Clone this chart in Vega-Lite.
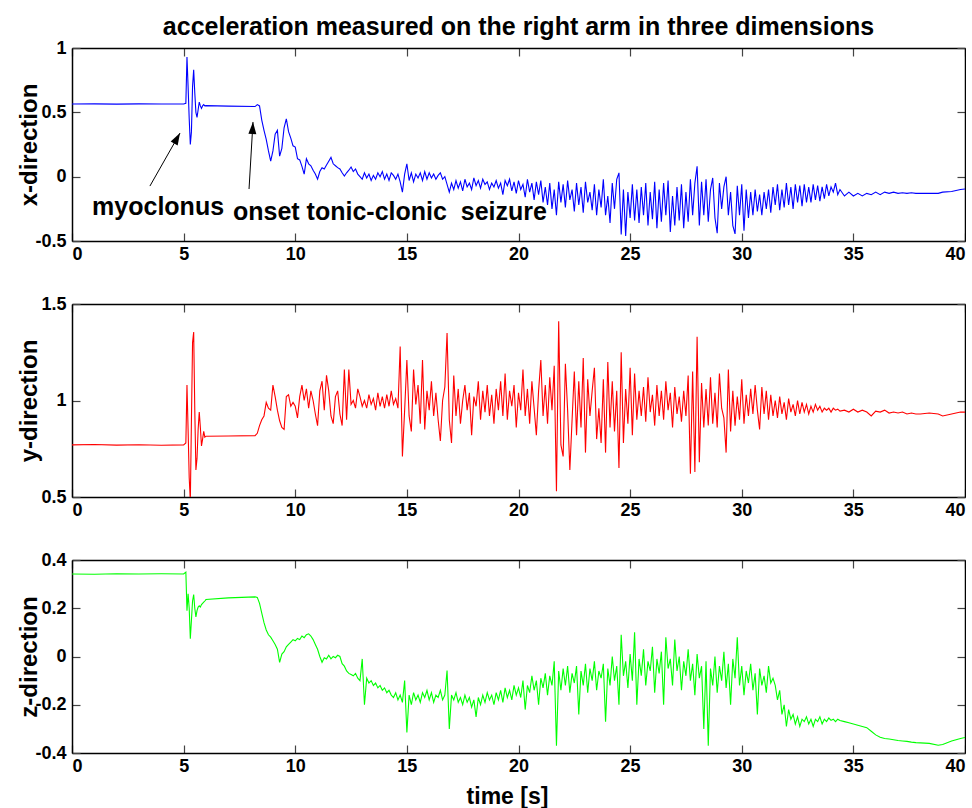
{
"$schema": "https://vega.github.io/schema/vega-lite/v6.json",
"background": "white",
"padding": {"left": 17, "top": 15, "right": 0, "bottom": 0},
"autosize": {"type": "pad"},
"bounds": "flush",
"spacing": 63,
"config": {
  "font": "Liberation Sans",
  "view": {"stroke": null},
  "axis": {"grid": false, "labelFont": "Liberation Sans", "labelFontSize": 18, "labelFontWeight": "bold", "labelColor": "black", "titleFont": "Liberation Sans", "titleFontWeight": "bold", "titleColor": "black", "domainColor": "black", "domainWidth": 1.5, "tickColor": "#444", "tickWidth": 1.2, "tickSize": -8, "labelPadding": 12, "labelExpr": "datum.value < 0 ? '-' + format(-datum.value, '') : format(datum.value, '')"}
},
"datasets": {
  "notes": [
    {"label": "myoclonus", "t": 0.9, "v": -0.236},
    {"label": "onset tonic-clonic\u00a0 seizure", "t": 7.21, "v": -0.275}
  ],
  "arrows": [
    {"id": 1, "t": 3.49, "v": -0.073, "t2": 4.838, "v2": 0.339},
    {"id": 2, "t": 7.93, "v": -0.096, "t2": 8.107, "v2": 0.425}
  ],
  "acc": [
{"t":0,"x":0.565,"y":0.77,"z":0.342},
{"t":1,"x":0.566,"y":0.772,"z":0.341},
{"t":2,"x":0.564,"y":0.769,"z":0.343},
{"t":3,"x":0.566,"y":0.771,"z":0.342},
{"t":4,"x":0.565,"y":0.768,"z":0.343},
{"t":5,"x":0.565,"y":0.77,"z":0.342},
{"t":5.1,"x":0.57,"y":0.78,"z":0.35},
{"t":5.15,"x":0.93,"y":1.08,"z":0.19},
{"t":5.2,"x":0.7,"y":0.85,"z":0.26},
{"t":5.25,"x":0.45,"y":0.6,"z":0.2},
{"t":5.3,"x":0.25,"y":0.48,"z":0.074},
{"t":5.35,"x":0.35,"y":0.9,"z":0.15},
{"t":5.4,"x":0.7,"y":1.3,"z":0.23},
{"t":5.45,"x":0.83,"y":1.355,"z":0.257},
{"t":5.5,"x":0.65,"y":0.95,"z":0.2},
{"t":5.55,"x":0.5,"y":0.64,"z":0.164},
{"t":5.6,"x":0.46,"y":0.7,"z":0.19},
{"t":5.65,"x":0.52,"y":0.85,"z":0.205},
{"t":5.7,"x":0.58,"y":0.94,"z":0.21},
{"t":5.75,"x":0.55,"y":0.86,"z":0.205},
{"t":5.8,"x":0.53,"y":0.765,"z":0.215},
{"t":5.85,"x":0.55,"y":0.8,"z":0.22},
{"t":5.9,"x":0.56,"y":0.84,"z":0.225},
{"t":5.95,"x":0.55,"y":0.81,"z":0.23},
{"t":6,"x":0.552,"y":0.815,"z":0.236},
{"t":7,"x":0.548,"y":0.816,"z":0.243},
{"t":8.2,"x":0.545,"y":0.818,"z":0.247},
{"t":8.3,"x":0.56,"y":0.83,"z":0.245},
{"t":8.4,"x":0.55,"y":0.87,"z":0.22},
{"t":8.5,"x":0.44,"y":0.9,"z":0.18},
{"t":8.6,"x":0.36,"y":0.92,"z":0.14},
{"t":8.7,"x":0.29,"y":0.99,"z":0.11},
{"t":8.8,"x":0.2,"y":0.96,"z":0.09},
{"t":8.9,"x":0.12,"y":0.95,"z":0.08},
{"t":9.0,"x":0.2,"y":1.08,"z":0.065},
{"t":9.1,"x":0.33,"y":1.02,"z":0.05},
{"t":9.2,"x":0.36,"y":0.95,"z":0.03},
{"t":9.3,"x":0.16,"y":0.895,"z":-0.024},
{"t":9.4,"x":0.22,"y":0.86,"z":0.01},
{"t":9.5,"x":0.38,"y":0.85,"z":0.02},
{"t":9.6,"x":0.45,"y":1.02,"z":0.04},
{"t":9.7,"x":0.35,"y":1.03,"z":0.05},
{"t":9.8,"x":0.3,"y":0.97,"z":0.06},
{"t":9.9,"x":0.24,"y":0.99,"z":0.07},
{"t":10.0,"x":0.23,"y":0.97,"z":0.065},
{"t":10.1,"x":0.14,"y":0.91,"z":0.075},
{"t":10.2,"x":0.13,"y":1.02,"z":0.07},
{"t":10.3,"x":0.08,"y":1.08,"z":0.085},
{"t":10.4,"x":0.02,"y":1.0,"z":0.078},
{"t":10.5,"x":0.14,"y":1.06,"z":0.09},
{"t":10.6,"x":0.1,"y":0.96,"z":0.094},
{"t":10.7,"x":0.085,"y":1.05,"z":0.085},
{"t":10.8,"x":0.05,"y":1.0,"z":0.07},
{"t":10.9,"x":0.02,"y":0.93,"z":0.05},
{"t":11.0,"x":-0.02,"y":0.87,"z":0.03},
{"t":11.1,"x":0.04,"y":1.05,"z":0.0},
{"t":11.2,"x":0.07,"y":1.1,"z":-0.024},
{"t":11.3,"x":0.06,"y":0.95,"z":-0.005},
{"t":11.4,"x":0.09,"y":1.13,"z":-0.01},
{"t":11.5,"x":0.12,"y":1.05,"z":0.005},
{"t":11.6,"x":0.15,"y":0.92,"z":-0.01},
{"t":11.7,"x":0.1,"y":0.88,"z":0.0},
{"t":11.8,"x":0.085,"y":1.02,"z":-0.005},
{"t":11.9,"x":0.07,"y":1.05,"z":0.005},
{"t":12.0,"x":0.06,"y":0.93,"z":0.0},
{"t":12.1,"x":0.03,"y":0.87,"z":-0.03},
{"t":12.2,"x":0.005,"y":1.16,"z":-0.04},
{"t":12.3,"x":0.03,"y":0.9,"z":-0.06},
{"t":12.4,"x":0.05,"y":1.16,"z":-0.07},
{"t":12.5,"x":0.075,"y":0.98,"z":-0.075},
{"t":12.6,"x":0.04,"y":1.0,"z":-0.08},
{"t":12.7,"x":0.06,"y":0.96,"z":-0.07},
{"t":12.8,"x":0.02,"y":1.06,"z":-0.09},
{"t":12.9,"x":0.0,"y":1.02,"z":-0.1},
{"t":13.0,"x":-0.02,"y":0.97,"z":-0.01},
{"t":13.1,"x":0.03,"y":1.0,"z":-0.2},
{"t":13.2,"x":-0.01,"y":0.96,"z":-0.09},
{"t":13.3,"x":0.02,"y":1.03,"z":-0.11},
{"t":13.4,"x":-0.03,"y":0.98,"z":-0.1},
{"t":13.5,"x":0.01,"y":1.01,"z":-0.12},
{"t":13.6,"x":-0.02,"y":0.95,"z":-0.11},
{"t":13.7,"x":0.03,"y":1.04,"z":-0.13},
{"t":13.8,"x":0.0,"y":0.97,"z":-0.12},
{"t":13.9,"x":0.04,"y":1.02,"z":-0.14},
{"t":14.0,"x":-0.02,"y":0.96,"z":-0.13},
{"t":14.1,"x":0.02,"y":1.03,"z":-0.15},
{"t":14.2,"x":-0.03,"y":0.97,"z":-0.14},
{"t":14.3,"x":0.03,"y":1.05,"z":-0.16},
{"t":14.4,"x":0.01,"y":0.98,"z":-0.17},
{"t":14.5,"x":-0.02,"y":1.01,"z":-0.15},
{"t":14.6,"x":0.02,"y":0.96,"z":-0.18},
{"t":14.7,"x":-0.04,"y":1.28,"z":-0.16},
{"t":14.8,"x":-0.12,"y":0.71,"z":-0.19},
{"t":14.9,"x":0.02,"y":0.95,"z":-0.1},
{"t":15.0,"x":0.1,"y":1.21,"z":-0.315},
{"t":15.1,"x":-0.03,"y":0.92,"z":-0.16},
{"t":15.2,"x":0.03,"y":0.84,"z":-0.2},
{"t":15.3,"x":-0.04,"y":1.16,"z":-0.15},
{"t":15.4,"x":0.02,"y":0.98,"z":-0.18},
{"t":15.5,"x":-0.01,"y":1.08,"z":-0.16},
{"t":15.6,"x":0.03,"y":0.88,"z":-0.19},
{"t":15.7,"x":-0.03,"y":1.21,"z":-0.15},
{"t":15.8,"x":0.04,"y":0.85,"z":-0.17},
{"t":15.9,"x":-0.02,"y":1.05,"z":-0.14},
{"t":16.0,"x":0.03,"y":0.95,"z":-0.18},
{"t":16.1,"x":-0.01,"y":1.1,"z":-0.15},
{"t":16.2,"x":0.02,"y":0.92,"z":-0.19},
{"t":16.3,"x":-0.02,"y":1.04,"z":-0.16},
{"t":16.4,"x":0.01,"y":0.9,"z":-0.17},
{"t":16.5,"x":0.03,"y":0.79,"z":-0.14},
{"t":16.6,"x":-0.02,"y":1.0,"z":-0.18},
{"t":16.7,"x":0.0,"y":1.07,"z":-0.16},
{"t":16.8,"x":-0.06,"y":1.35,"z":-0.058},
{"t":16.9,"x":-0.12,"y":0.9,"z":-0.3},
{"t":17.0,"x":-0.05,"y":0.78,"z":-0.16},
{"t":17.1,"x":-0.1,"y":1.13,"z":-0.18},
{"t":17.2,"x":-0.03,"y":0.92,"z":-0.15},
{"t":17.3,"x":-0.09,"y":1.06,"z":-0.19},
{"t":17.4,"x":-0.04,"y":0.88,"z":-0.17},
{"t":17.5,"x":-0.11,"y":1.0,"z":-0.2},
{"t":17.6,"x":-0.02,"y":1.08,"z":-0.16},
{"t":17.7,"x":-0.08,"y":0.95,"z":-0.19},
{"t":17.8,"x":-0.05,"y":1.04,"z":-0.17},
{"t":17.9,"x":-0.1,"y":0.82,"z":-0.21},
{"t":18.0,"x":-0.01,"y":1.02,"z":-0.18},
{"t":18.1,"x":-0.07,"y":0.97,"z":-0.25},
{"t":18.2,"x":-0.03,"y":1.1,"z":-0.17},
{"t":18.3,"x":-0.09,"y":0.9,"z":-0.2},
{"t":18.4,"x":-0.02,"y":1.05,"z":-0.16},
{"t":18.5,"x":-0.06,"y":0.94,"z":-0.19},
{"t":18.6,"x":-0.04,"y":1.08,"z":-0.15},
{"t":18.7,"x":-0.1,"y":0.92,"z":-0.18},
{"t":18.8,"x":-0.05,"y":1.03,"z":-0.16},
{"t":18.9,"x":-0.08,"y":0.88,"z":-0.2},
{"t":19.0,"x":-0.03,"y":1.06,"z":-0.15},
{"t":19.1,"x":-0.09,"y":0.95,"z":-0.18},
{"t":19.2,"x":-0.05,"y":1.1,"z":-0.14},
{"t":19.3,"x":-0.14,"y":0.92,"z":-0.19},
{"t":19.4,"x":-0.03,"y":1.14,"z":-0.13},
{"t":19.5,"x":-0.07,"y":0.9,"z":-0.17},
{"t":19.6,"x":-0.02,"y":1.05,"z":-0.14},
{"t":19.7,"x":-0.11,"y":0.97,"z":-0.18},
{"t":19.8,"x":-0.04,"y":1.08,"z":-0.12},
{"t":19.9,"x":-0.13,"y":0.86,"z":-0.16},
{"t":20.0,"x":-0.03,"y":1.04,"z":-0.13},
{"t":20.1,"x":-0.1,"y":0.95,"z":-0.17},
{"t":20.2,"x":-0.06,"y":1.16,"z":-0.1},
{"t":20.3,"x":-0.16,"y":0.92,"z":-0.22},
{"t":20.4,"x":-0.02,"y":1.06,"z":-0.12},
{"t":20.5,"x":-0.12,"y":0.88,"z":-0.15},
{"t":20.6,"x":-0.05,"y":1.1,"z":-0.08},
{"t":20.7,"x":-0.18,"y":0.96,"z":-0.14},
{"t":20.8,"x":-0.04,"y":0.82,"z":-0.1},
{"t":20.9,"x":-0.14,"y":1.05,"z":-0.2},
{"t":21.0,"x":-0.03,"y":1.21,"z":-0.09},
{"t":21.1,"x":-0.2,"y":0.92,"z":-0.13},
{"t":21.2,"x":-0.08,"y":1.08,"z":-0.07},
{"t":21.3,"x":-0.22,"y":0.88,"z":-0.16},
{"t":21.4,"x":-0.05,"y":1.12,"z":-0.08},
{"t":21.5,"x":-0.25,"y":0.95,"z":-0.12},
{"t":21.6,"x":-0.1,"y":1.18,"z":-0.02},
{"t":21.7,"x":-0.3,"y":0.53,"z":-0.37},
{"t":21.8,"x":-0.04,"y":1.41,"z":-0.06},
{"t":21.9,"x":-0.2,"y":0.77,"z":-0.14},
{"t":22.0,"x":-0.06,"y":0.71,"z":-0.05},
{"t":22.1,"x":-0.24,"y":1.19,"z":-0.12},
{"t":22.2,"x":-0.03,"y":0.95,"z":-0.04},
{"t":22.3,"x":-0.18,"y":0.64,"z":-0.15},
{"t":22.4,"x":-0.1,"y":0.9,"z":-0.07},
{"t":22.5,"x":-0.27,"y":1.15,"z":-0.11},
{"t":22.6,"x":-0.05,"y":0.82,"z":-0.04},
{"t":22.7,"x":-0.22,"y":1.1,"z":-0.24},
{"t":22.8,"x":-0.08,"y":0.86,"z":-0.06},
{"t":22.9,"x":-0.28,"y":1.22,"z":-0.12},
{"t":23.0,"x":-0.04,"y":0.73,"z":-0.03},
{"t":23.1,"x":-0.2,"y":1.11,"z":-0.15},
{"t":23.2,"x":-0.12,"y":0.92,"z":-0.05},
{"t":23.3,"x":-0.26,"y":1.05,"z":-0.1},
{"t":23.4,"x":-0.06,"y":1.17,"z":-0.02},
{"t":23.5,"x":-0.3,"y":0.8,"z":-0.14},
{"t":23.6,"x":-0.1,"y":0.96,"z":-0.06},
{"t":23.7,"x":-0.24,"y":0.78,"z":-0.09},
{"t":23.8,"x":-0.02,"y":1.11,"z":-0.03},
{"t":23.9,"x":-0.3,"y":0.73,"z":-0.27},
{"t":24.0,"x":-0.15,"y":1.2,"z":-0.05},
{"t":24.1,"x":-0.36,"y":0.86,"z":-0.12},
{"t":24.2,"x":-0.05,"y":1.1,"z":0.0},
{"t":24.3,"x":-0.25,"y":0.84,"z":-0.1},
{"t":24.4,"x":-0.02,"y":1.05,"z":-0.04},
{"t":24.5,"x":0.03,"y":0.65,"z":-0.2},
{"t":24.6,"x":-0.45,"y":1.25,"z":0.09},
{"t":24.7,"x":-0.1,"y":0.78,"z":-0.08},
{"t":24.8,"x":-0.46,"y":1.06,"z":-0.02},
{"t":24.9,"x":-0.12,"y":0.88,"z":-0.13},
{"t":25.0,"x":-0.32,"y":1.17,"z":0.01},
{"t":25.1,"x":-0.06,"y":0.82,"z":-0.1},
{"t":25.2,"x":-0.34,"y":1.14,"z":0.1},
{"t":25.3,"x":-0.1,"y":0.9,"z":-0.2},
{"t":25.4,"x":-0.36,"y":1.05,"z":-0.01},
{"t":25.5,"x":-0.08,"y":0.92,"z":-0.08},
{"t":25.6,"x":-0.3,"y":1.07,"z":0.03},
{"t":25.7,"x":-0.05,"y":0.89,"z":-0.12},
{"t":25.8,"x":-0.38,"y":1.12,"z":-0.02},
{"t":25.9,"x":-0.12,"y":0.94,"z":-0.06},
{"t":26.0,"x":-0.33,"y":1.03,"z":0.04},
{"t":26.1,"x":-0.04,"y":0.87,"z":-0.15},
{"t":26.2,"x":-0.4,"y":1.08,"z":-0.01},
{"t":26.3,"x":-0.1,"y":0.92,"z":-0.07},
{"t":26.4,"x":-0.35,"y":1.05,"z":0.02},
{"t":26.5,"x":-0.05,"y":0.9,"z":-0.2},
{"t":26.6,"x":-0.3,"y":1.1,"z":0.08},
{"t":26.7,"x":-0.03,"y":0.95,"z":-0.05},
{"t":26.8,"x":-0.43,"y":1.04,"z":-0.01},
{"t":26.9,"x":-0.15,"y":0.86,"z":-0.12},
{"t":27.0,"x":-0.38,"y":1.07,"z":0.07},
{"t":27.1,"x":-0.08,"y":0.93,"z":-0.06},
{"t":27.2,"x":-0.34,"y":1.02,"z":0.0},
{"t":27.3,"x":-0.06,"y":0.89,"z":-0.14},
{"t":27.4,"x":-0.4,"y":1.05,"z":-0.02},
{"t":27.5,"x":-0.12,"y":0.92,"z":-0.08},
{"t":27.6,"x":-0.35,"y":1.13,"z":0.03},
{"t":27.7,"x":-0.02,"y":0.62,"z":-0.1},
{"t":27.8,"x":-0.3,"y":1.15,"z":-0.03},
{"t":27.9,"x":-0.05,"y":0.63,"z":-0.16},
{"t":28.0,"x":0.08,"y":1.33,"z":0.01},
{"t":28.1,"x":-0.38,"y":0.68,"z":-0.09},
{"t":28.2,"x":-0.04,"y":1.09,"z":-0.04},
{"t":28.3,"x":-0.3,"y":0.86,"z":-0.3},
{"t":28.4,"x":-0.02,"y":1.06,"z":-0.02},
{"t":28.5,"x":-0.35,"y":0.87,"z":-0.37},
{"t":28.6,"x":-0.1,"y":1.12,"z":-0.05},
{"t":28.7,"x":-0.01,"y":0.88,"z":-0.12},
{"t":28.8,"x":-0.32,"y":1.04,"z":0.0},
{"t":28.9,"x":-0.44,"y":0.86,"z":-0.15},
{"t":29.0,"x":-0.05,"y":1.14,"z":-0.04},
{"t":29.1,"x":-0.25,"y":0.96,"z":-0.1},
{"t":29.2,"x":-0.08,"y":0.91,"z":0.02},
{"t":29.3,"x":0.0,"y":0.73,"z":-0.13},
{"t":29.4,"x":-0.3,"y":1.16,"z":-0.03},
{"t":29.5,"x":-0.12,"y":0.84,"z":-0.2},
{"t":29.6,"x":-0.38,"y":1.05,"z":-0.01},
{"t":29.7,"x":-0.445,"y":0.87,"z":-0.09},
{"t":29.8,"x":-0.07,"y":1.02,"z":0.08},
{"t":29.9,"x":-0.3,"y":0.9,"z":-0.12},
{"t":30.0,"x":-0.06,"y":1.11,"z":-0.04},
{"t":30.1,"x":-0.42,"y":0.88,"z":-0.16},
{"t":30.2,"x":-0.1,"y":1.03,"z":-0.06},
{"t":30.3,"x":-0.32,"y":0.92,"z":-0.11},
{"t":30.4,"x":-0.12,"y":1.06,"z":-0.03},
{"t":30.5,"x":-0.3,"y":0.93,"z":-0.14},
{"t":30.6,"x":-0.1,"y":1.08,"z":-0.07},
{"t":30.7,"x":-0.27,"y":0.95,"z":-0.24},
{"t":30.8,"x":-0.14,"y":0.85,"z":-0.05},
{"t":30.9,"x":-0.3,"y":1.07,"z":-0.12},
{"t":31.0,"x":-0.12,"y":0.93,"z":-0.08},
{"t":31.1,"x":-0.25,"y":1.05,"z":-0.15},
{"t":31.2,"x":-0.1,"y":0.9,"z":-0.04},
{"t":31.3,"x":-0.28,"y":1.03,"z":-0.11},
{"t":31.4,"x":-0.08,"y":0.92,"z":-0.09},
{"t":31.5,"x":-0.22,"y":1.0,"z":-0.12},
{"t":31.6,"x":-0.06,"y":0.91,"z":-0.18},
{"t":31.7,"x":-0.26,"y":1.02,"z":-0.14},
{"t":31.8,"x":-0.1,"y":0.93,"z":-0.24},
{"t":31.9,"x":-0.24,"y":0.99,"z":-0.2},
{"t":32.0,"x":-0.05,"y":0.9,"z":-0.29},
{"t":32.1,"x":-0.22,"y":1.01,"z":-0.22},
{"t":32.2,"x":-0.08,"y":0.94,"z":-0.26},
{"t":32.3,"x":-0.25,"y":0.98,"z":-0.24},
{"t":32.4,"x":-0.06,"y":0.92,"z":-0.28},
{"t":32.5,"x":-0.2,"y":1.0,"z":-0.25},
{"t":32.6,"x":-0.07,"y":0.93,"z":-0.29},
{"t":32.7,"x":-0.23,"y":0.99,"z":-0.26},
{"t":32.8,"x":-0.06,"y":0.94,"z":-0.27},
{"t":32.9,"x":-0.2,"y":0.98,"z":-0.25},
{"t":33.0,"x":-0.08,"y":0.93,"z":-0.28},
{"t":33.1,"x":-0.2,"y":0.97,"z":-0.26},
{"t":33.2,"x":-0.06,"y":0.94,"z":-0.29},
{"t":33.3,"x":-0.18,"y":0.98,"z":-0.26},
{"t":33.4,"x":-0.07,"y":0.95,"z":-0.27},
{"t":33.5,"x":-0.19,"y":0.97,"z":-0.25},
{"t":33.6,"x":-0.08,"y":0.94,"z":-0.28},
{"t":33.7,"x":-0.17,"y":0.96,"z":-0.26},
{"t":33.8,"x":-0.06,"y":0.95,"z":-0.27},
{"t":33.9,"x":-0.15,"y":0.96,"z":-0.255},
{"t":34.0,"x":-0.08,"y":0.94,"z":-0.265},
{"t":34.1,"x":-0.12,"y":0.96,"z":-0.26},
{"t":34.2,"x":-0.05,"y":0.95,"z":-0.27},
{"t":34.3,"x":-0.14,"y":0.955,"z":-0.26},
{"t":34.4,"x":-0.1,"y":0.945,"z":-0.265},
{"t":34.6,"x":-0.15,"y":0.95,"z":-0.27},
{"t":34.8,"x":-0.12,"y":0.94,"z":-0.275},
{"t":35.0,"x":-0.15,"y":0.955,"z":-0.28},
{"t":35.2,"x":-0.13,"y":0.94,"z":-0.285},
{"t":35.4,"x":-0.15,"y":0.95,"z":-0.29},
{"t":35.6,"x":-0.13,"y":0.94,"z":-0.295},
{"t":35.8,"x":-0.14,"y":0.92,"z":-0.31},
{"t":36.0,"x":-0.12,"y":0.945,"z":-0.325},
{"t":36.2,"x":-0.14,"y":0.94,"z":-0.335},
{"t":36.4,"x":-0.12,"y":0.95,"z":-0.34},
{"t":36.6,"x":-0.13,"y":0.935,"z":-0.342},
{"t":36.8,"x":-0.12,"y":0.94,"z":-0.345},
{"t":37.0,"x":-0.13,"y":0.935,"z":-0.348},
{"t":37.2,"x":-0.125,"y":0.94,"z":-0.35},
{"t":37.4,"x":-0.13,"y":0.93,"z":-0.352},
{"t":37.6,"x":-0.125,"y":0.935,"z":-0.355},
{"t":37.8,"x":-0.13,"y":0.93,"z":-0.357},
{"t":38.0,"x":-0.13,"y":0.93,"z":-0.358},
{"t":38.4,"x":-0.13,"y":0.935,"z":-0.36},
{"t":38.8,"x":-0.13,"y":0.93,"z":-0.368},
{"t":39.0,"x":-0.12,"y":0.92,"z":-0.365},
{"t":39.4,"x":-0.115,"y":0.93,"z":-0.35},
{"t":39.8,"x":-0.1,"y":0.94,"z":-0.34},
{"t":40.0,"x":-0.096,"y":0.94,"z":-0.336}
  ]
},
"vconcat": [
  {
    "width": 893, "height": 193,
    "title": {"text": "acceleration measured on the right arm in three dimensions", "font": "Liberation Sans", "fontSize": 25, "fontWeight": "bold", "color": "black", "anchor": "middle", "frame": "group", "offset": -21, "baseline": "alphabetic"},
    "layer": [
      {"data": {"name": "acc"}, "mark": {"type": "line", "color": "#0000ff", "strokeWidth": 1.1, "clip": true},
       "encoding": {
         "x": {"field": "t", "type": "quantitative", "scale": {"domain": [0, 40], "nice": false, "zero": false}, "axis": {"orient": "bottom", "values": [0, 5, 10, 15, 20, 25, 30, 35, 40], "title": null}},
         "y": {"field": "x", "type": "quantitative", "scale": {"domain": [-0.5, 1], "nice": false, "zero": false}, "axis": {"orient": "left", "values": [-0.5, 0, 0.5, 1], "title": "x-direction", "titleFontSize": 24, "titleX": -43, "titleY": 96.5, "titleAngle": -90, "titleBaseline": "middle", "titleAlign": "center", "labelPadding": 14}}
       }},
      {"data": {"name": "acc"}, "mark": {"type": "line", "strokeOpacity": 0},
       "encoding": {
         "x": {"field": "t", "type": "quantitative", "axis": {"orient": "top", "values": [0, 5, 10, 15, 20, 25, 30, 35, 40], "labels": false, "title": null}},
         "y": {"field": "x", "type": "quantitative", "axis": {"orient": "right", "values": [-0.5, 0, 0.5, 1], "labels": false, "title": null}}
       }},
      {"data": {"name": "arrows"}, "mark": {"type": "rule", "color": "black", "strokeWidth": 1},
       "encoding": {
         "x": {"field": "t", "type": "quantitative", "axis": null},
         "y": {"field": "v", "type": "quantitative", "axis": null},
         "x2": {"field": "t2"}, "y2": {"field": "v2"}
       }},
      {"data": {"name": "arrows"}, "transform": [{"filter": "datum.id == 1"}], "mark": {"type": "point", "shape": "M0,0L0.4,1.2L-0.4,1.2Z", "filled": true, "color": "black", "opacity": 1, "size": 400, "angle": 29},
       "encoding": {
         "x": {"field": "t2", "type": "quantitative", "axis": null},
         "y": {"field": "v2", "type": "quantitative", "axis": null}
       }},
      {"data": {"name": "arrows"}, "transform": [{"filter": "datum.id == 2"}], "mark": {"type": "point", "shape": "M0,0L0.4,1.2L-0.4,1.2Z", "filled": true, "color": "black", "opacity": 1, "size": 400, "angle": 3},
       "encoding": {
         "x": {"field": "t2", "type": "quantitative", "axis": null},
         "y": {"field": "v2", "type": "quantitative", "axis": null}
       }},
      {"data": {"name": "notes"}, "mark": {"type": "text", "align": "left", "baseline": "middle", "font": "Liberation Sans", "fontSize": 25, "fontWeight": "bold", "color": "black"},
       "encoding": {
         "x": {"field": "t", "type": "quantitative", "axis": null},
         "y": {"field": "v", "type": "quantitative", "axis": null},
         "text": {"field": "label"}
       }}
    ],
    "resolve": {"axis": {"x": "independent", "y": "independent"}}
  },
  {
    "width": 893, "height": 193,
    "layer": [
      {"data": {"name": "acc"}, "mark": {"type": "line", "color": "#ff0000", "strokeWidth": 1.1, "clip": true},
       "encoding": {
         "x": {"field": "t", "type": "quantitative", "scale": {"domain": [0, 40], "nice": false, "zero": false}, "axis": {"orient": "bottom", "values": [0, 5, 10, 15, 20, 25, 30, 35, 40], "title": null}},
         "y": {"field": "y", "type": "quantitative", "scale": {"domain": [0.5, 1.5], "nice": false, "zero": false}, "axis": {"orient": "left", "values": [0.5, 1, 1.5], "title": "y-direction", "titleFontSize": 24, "titleX": -43, "titleY": 96.5, "titleAngle": -90, "titleBaseline": "middle", "titleAlign": "center", "labelPadding": 14}}
       }},
      {"data": {"name": "acc"}, "mark": {"type": "line", "strokeOpacity": 0},
       "encoding": {
         "x": {"field": "t", "type": "quantitative", "axis": {"orient": "top", "values": [0, 5, 10, 15, 20, 25, 30, 35, 40], "labels": false, "title": null}},
         "y": {"field": "y", "type": "quantitative", "axis": {"orient": "right", "values": [0.5, 1, 1.5], "labels": false, "title": null}}
       }}
    ],
    "resolve": {"axis": {"x": "independent", "y": "independent"}}
  },
  {
    "width": 893, "height": 193,
    "layer": [
      {"data": {"name": "acc"}, "mark": {"type": "line", "color": "#00ff00", "strokeWidth": 1.1, "clip": true},
       "encoding": {
         "x": {"field": "t", "type": "quantitative", "scale": {"domain": [0, 40], "nice": false, "zero": false}, "axis": {"orient": "bottom", "values": [0, 5, 10, 15, 20, 25, 30, 35, 40], "title": "time [s]", "titleFontSize": 23, "titleX": 435, "titleY": 50, "titleBaseline": "alphabetic", "titleAlign": "center"}},
         "y": {"field": "z", "type": "quantitative", "scale": {"domain": [-0.4, 0.4], "nice": false, "zero": false}, "axis": {"orient": "left", "values": [-0.4, -0.2, 0, 0.2, 0.4], "title": "z-direction", "titleFontSize": 24, "titleX": -43, "titleY": 96.5, "titleAngle": -90, "titleBaseline": "middle", "titleAlign": "center", "labelPadding": 14}}
       }},
      {"data": {"name": "acc"}, "mark": {"type": "line", "strokeOpacity": 0},
       "encoding": {
         "x": {"field": "t", "type": "quantitative", "axis": {"orient": "top", "values": [0, 5, 10, 15, 20, 25, 30, 35, 40], "labels": false, "title": null}},
         "y": {"field": "z", "type": "quantitative", "axis": {"orient": "right", "values": [-0.4, -0.2, 0, 0.2, 0.4], "labels": false, "title": null}}
       }}
    ],
    "resolve": {"axis": {"x": "independent", "y": "independent"}}
  }
]
}
